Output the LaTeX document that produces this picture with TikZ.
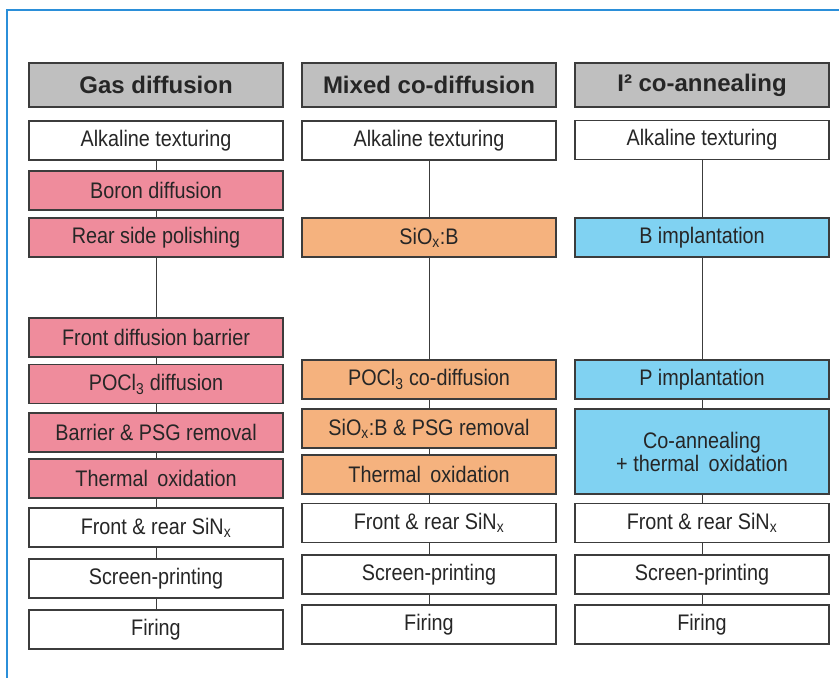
\documentclass[tikz,border=0pt]{standalone}
\usepackage{fontspec}
\setmainfont{Liberation Sans}
\newfontfamily\stepfont[FakeStretch=0.88]{Liberation Sans}
\usepackage{tikz}
\usetikzlibrary{positioning}
\usepackage{xcolor}
\definecolor{frameblue}{HTML}{2B8FD9}
\definecolor{headgray}{HTML}{BFBFBF}
\definecolor{gaspink}{HTML}{EF8C9C}
\definecolor{mixorange}{HTML}{F5B27E}
\definecolor{implblue}{HTML}{80D2F2}
\definecolor{edgegray}{HTML}{3C3C3C}
\tikzset{
	procbox/.style={draw=edgegray, line width=1.1pt, fill=white,
		minimum width=254pt, minimum height=39pt, inner sep=0pt,
		align=center, text=black!85, font=\stepfont\fontsize{22.5}{23}\selectfont},
	headbox/.style={procbox, fill=headgray, minimum height=44pt,
		font=\fontsize{24}{27}\selectfont\bfseries},
	link/.style={draw=edgegray, line width=1pt}
}

\begin{document}
\begin{tikzpicture}[x=1pt, y=-1pt]
		\useasboundingbox (0,0) rectangle (839,678);
		\draw[frameblue, line width=1.3pt] (7,678) -- (7,10) -- (839,10);
		
		% gas diffusion
		\node[headbox] (gashead) at (156,85) {Gas diffusion};
		\node[procbox] (gastex) at (156,140.5) {Alkaline texturing};
		\node[procbox, fill=gaspink] (gasboron) at (156,190.5) {Boron diffusion};
		\node[procbox, fill=gaspink] (gaspolish) at (156,237.5) {Rear side polishing};
		\node[procbox, fill=gaspink] (gasbarrier) at (156,337.5) {Front diffusion barrier};
		\node[procbox, fill=gaspink] (gaspocl) at (156,384) {POCl\textsubscript{3} diffusion};
		\node[procbox, fill=gaspink] (gasremove) at (156,432.5) {Barrier \& PSG removal};
		\node[procbox, fill=gaspink] (gasoxid) at (156,478.5) {Thermal\, oxidation};
		\node[procbox] (gassin) at (156,527.5) {Front \& rear SiN\textsubscript{x}};
		\node[procbox] (gasprint) at (156,578.5) {Screen-printing};
		\node[procbox] (gasfire) at (156,629.5) {Firing};
		
		% mixed co-diffusion
		\node[headbox] (mixhead) at (429,85) {Mixed co-diffusion};
		\node[procbox] (mixtex) at (429,140.5) {Alkaline texturing};
		\node[procbox, fill=mixorange] (mixsiox) at (429,237.5) {SiO\textsubscript{x}:B};
		\node[procbox, fill=mixorange] (mixpocl) at (429,379.5) {POCl\textsubscript{3} co-diffusion};
		\node[procbox, fill=mixorange] (mixremove) at (429,428.5) {SiO\textsubscript{x}:B \& PSG removal};
		\node[procbox, fill=mixorange] (mixoxid) at (429,474.5) {Thermal\, oxidation};
		\node[procbox] (mixsin) at (429,523) {Front \& rear SiN\textsubscript{x}};
		\node[procbox] (mixprint) at (429,574.5) {Screen-printing};
		\node[procbox] (mixfire) at (429,624.5) {Firing};
		
		% implantation
		\node[headbox] (implhead) at (702,85) {I² co-annealing};
		\node[procbox] (impltex) at (702,140) {Alkaline texturing};
		\node[procbox, fill=implblue] (implboron) at (702,237.5) {B implantation};
		\node[procbox, fill=implblue] (implphos) at (702,379.5) {P implantation};
		\node[procbox, fill=implblue, minimum height=85pt] (implanneal) at (702,451.5) {Co-annealing\\+ thermal\, oxidation};
		\node[procbox] (implsin) at (702,523) {Front \& rear SiN\textsubscript{x}};
		\node[procbox] (implprint) at (702,574.5) {Screen-printing};
		\node[procbox] (implfire) at (702,624.5) {Firing};
		
		\draw[link] (gastex) -- (gasboron);
		\draw[link] (gasboron) -- (gaspolish);
		\draw[link] (gaspolish) -- (gasbarrier);
		\draw[link] (gasbarrier) -- (gaspocl);
		\draw[link] (gaspocl) -- (gasremove);
		\draw[link] (gasremove) -- (gasoxid);
		\draw[link] (gasoxid) -- (gassin);
		\draw[link] (gassin) -- (gasprint);
		\draw[link] (gasprint) -- (gasfire);
		
		\draw[link] (mixtex) -- (mixsiox);
		\draw[link] (mixsiox) -- (mixpocl);
		\draw[link] (mixpocl) -- (mixremove);
		\draw[link] (mixremove) -- (mixoxid);
		\draw[link] (mixoxid) -- (mixsin);
		\draw[link] (mixsin) -- (mixprint);
		\draw[link] (mixprint) -- (mixfire);
		
		\draw[link] (impltex) -- (implboron);
		\draw[link] (implboron) -- (implphos);
		\draw[link] (implphos) -- (implanneal);
		\draw[link] (implanneal) -- (implsin);
		\draw[link] (implsin) -- (implprint);
		\draw[link] (implprint) -- (implfire);
	\end{tikzpicture}
\end{document}
